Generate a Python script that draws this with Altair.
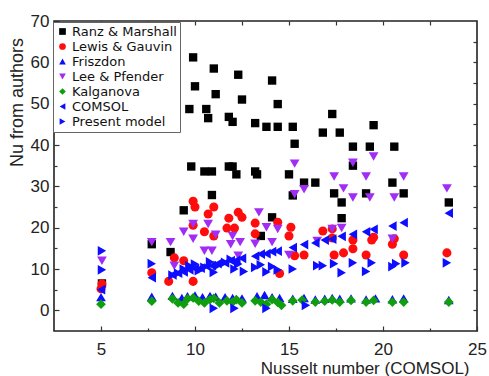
import altair as alt
import pandas as pd

# ---------------- data ----------------
series_names = ["Ranz & Marshall", "Lewis & Gauvin", "Friszdon", "Lee & Pfender",
                "Kalganova", "COMSOL", "Present model"]
series_colors = ["#000000", "#ff0d0d", "#0d0dff", "#a02cf5", "#0e9e0e", "#0d0dff", "#0d0dff"]
series_shapes = ["square", "circle", "triangle-up", "triangle-down", "diamond",
                 "triangle-left", "triangle-right"]

ranz_x = [5.05, 7.7, 8.7, 9.4, 9.7, 9.8, 9.9, 10.0, 10.5, 10.6, 10.7, 10.9, 10.9, 11.0, 11.1,
          11.8, 11.8, 12.0, 12.0, 12.2, 12.3, 12.5, 13.2, 13.2, 13.3, 13.5, 13.8, 14.1, 14.1,
          14.4, 14.4, 15.0, 15.2, 15.2, 15.3, 15.8, 16.4, 16.8, 17.3, 17.4, 17.7, 17.8, 17.8,
          18.4, 18.4, 19.1, 19.3, 19.5, 20.5, 20.6, 21.1, 23.5]
ranz_y = [6.5, 16.0, 14.1, 24.2, 48.7, 34.8, 61.2, 54.2, 33.6, 48.7, 46.5, 33.6, 27.9, 58.5, 52.3,
          46.8, 34.8, 45.6, 34.8, 32.9, 57.0, 51.0, 45.3, 33.6, 32.9, 18.0, 44.4, 55.6, 22.5,
          44.4, 49.9, 32.9, 44.4, 27.8, 40.3, 30.9, 30.9, 43.0, 47.5, 28.3, 43.0, 26.1, 22.3,
          39.6, 35.0, 28.3, 39.6, 44.8, 30.9, 39.6, 28.3, 26.1]

lewis_x = [5.0, 5.05, 7.7, 8.6, 8.9, 9.4, 9.9, 9.9, 9.9, 10.0, 10.5, 10.7, 11.0, 11.0, 11.7,
           11.8, 12.1, 12.3, 12.5, 13.2, 13.2, 14.4, 14.5, 15.0, 15.1, 15.3, 15.8, 16.8, 17.3,
           17.3, 17.4, 17.9, 18.4, 18.4, 19.1, 19.4, 19.5, 20.5, 20.6, 21.1, 23.4]
lewis_y = [5.2, 6.4, 9.1, 7.0, 12.7, 12.0, 26.4, 20.6, 7.0, 25.0, 19.0, 23.3, 25.0, 18.0, 19.9,
           22.3, 19.9, 23.7, 22.5, 21.1, 18.5, 21.3, 8.9, 18.0, 20.1, 13.2, 13.4, 19.2, 19.7,
           17.5, 13.4, 13.9, 17.0, 14.9, 13.4, 17.0, 17.7, 16.0, 17.3, 13.4, 13.9]

frisz_x = [5.0, 7.7, 8.8, 9.3, 9.6, 10.0, 10.4, 10.8, 11.1, 11.6, 12.0, 12.5, 13.3, 13.7, 14.1,
           14.5, 15.2, 15.8, 16.4, 16.9, 17.3, 17.7, 18.3, 19.1, 19.6, 20.5, 21.1, 23.5]
frisz_y = [3.2, 3.3, 3.5, 3.0, 3.4, 3.6, 3.2, 3.5, 3.3, 3.2, 3.0, 2.9, 3.4, 3.7, 3.2,
           3.0, 2.8, 3.0, 2.6, 2.8, 3.0, 2.8, 2.9, 2.6, 2.9, 2.7, 2.9, 2.5]

lee_x = [5.05, 7.7, 8.7, 8.9, 9.4, 9.9, 9.9, 10.5, 10.7, 10.9, 11.1, 11.9, 12.0, 12.3, 12.4,
         13.2, 13.4, 13.8, 14.1, 14.4, 15.0, 15.3, 15.3, 15.8, 16.5, 17.3, 17.4, 17.8, 17.9,
         18.4, 18.4, 19.1, 19.3, 19.5, 20.5, 20.6, 21.1, 23.4]
lee_y = [12.0, 16.5, 16.5, 10.8, 19.0, 20.9, 17.3, 14.4, 20.9, 14.4, 18.3, 16.0, 18.0, 13.2, 16.5,
         16.1, 23.7, 20.1, 16.5, 19.7, 13.4, 35.5, 28.1, 29.3, 16.8, 19.7, 32.4, 19.9, 29.5,
         35.7, 27.3, 32.4, 27.3, 37.2, 17.3, 27.3, 32.4, 29.5]

kalg_x = [5.0, 7.7, 8.8, 9.1, 9.4, 9.6, 9.9, 10.2, 10.5, 10.8, 11.0, 11.3, 11.7, 12.0, 12.2,
          12.5, 13.2, 13.5, 13.8, 14.1, 14.4, 14.6, 15.2, 15.7, 16.4, 16.9, 17.3, 17.7, 18.3,
          19.1, 19.5, 20.5, 21.1, 23.5]
kalg_y = [1.5, 2.2, 2.8, 1.8, 1.5, 2.8, 3.0, 2.2, 1.8, 2.6, 2.9, 1.8, 2.3, 2.0, 2.6,
          1.8, 2.3, 2.0, 1.5, 2.6, 1.9, 1.2, 2.3, 2.5, 2.0, 2.2, 2.5, 2.0, 2.4,
          2.0, 2.4, 2.0, 2.0, 2.0]

comsol_x = [5.0, 7.7, 8.8, 9.1, 9.4, 9.7, 10.0, 10.3, 10.6, 10.9, 11.2, 11.6, 11.9, 12.2, 12.5,
            13.2, 13.5, 13.8, 14.1, 14.4, 15.2, 15.8, 16.4, 16.9, 17.3, 17.8, 18.4, 19.1, 19.5,
            20.5, 21.1, 23.5]
comsol_y = [5.0, 7.9, 8.6, 9.0, 9.3, 9.8, 10.1, 10.2, 10.7, 10.8, 11.3, 11.5, 12.0, 12.1, 12.6,
            13.1, 13.6, 13.7, 14.2, 14.3, 15.2, 15.9, 16.3, 17.0, 17.2, 17.9, 18.4, 19.0, 19.6,
            20.4, 21.2, 23.5]

present_x = [5.05, 5.05, 7.7, 8.8, 9.1, 9.4, 9.7, 10.0, 10.2, 10.5, 10.8, 11.0, 11.2, 11.6, 11.9,
             12.1, 12.3, 12.6, 13.2, 13.5, 13.8, 14.1, 14.4, 15.2, 16.5, 16.8, 17.4, 17.8, 18.4,
             19.1, 19.4, 20.5, 20.7, 21.2, 23.4, 11.0, 12.1, 13.8, 15.9]
present_y = [14.4, 9.8, 11.3, 8.5, 9.0, 10.0, 10.8, 11.2, 9.6, 10.4, 11.7, 9.2, 10.8, 11.6, 12.3,
             10.0, 11.2, 9.4, 10.4, 11.0, 9.3, 10.6, 9.8, 10.0, 10.8, 10.8, 11.3, 9.1, 11.5,
             9.4, 11.5, 10.6, 11.3, 11.5, 11.5, 0.5, 0.5, 0.5, 1.2]

x_major = [5, 10, 15, 20, 25]
x_all = [5, 7.5, 10, 12.5, 15, 17.5, 20, 22.5]
x_minor = [7.5, 12.5, 17.5, 22.5]
y_major = [0, 10, 20, 30, 40, 50, 60, 70]
y_all = [0, 5, 10, 15, 20, 25, 30, 35, 40, 45, 50, 55, 60, 65]
y_minor = [5, 15, 25, 35, 45, 55, 65]

# ---------------- table ----------------
pairs = [(ranz_x, ranz_y), (lewis_x, lewis_y), (frisz_x, frisz_y), (lee_x, lee_y),
         (kalg_x, kalg_y), (comsol_x, comsol_y), (present_x, present_y)]
rows = []
for name, (xs, ys) in zip(series_names, pairs):
    for xv, yv in zip(xs, ys):
        rows.append({"series": name, "x": xv, "y": yv})
df = pd.DataFrame(rows)

FONT = "Liberation Sans"
xscale = alt.Scale(domain=[2.5, 25], nice=False, zero=False)
yscale = alt.Scale(domain=[-5, 70], nice=False, zero=False)

legend = alt.Legend(orient="none", legendX=-1, legendY=1, padding=3,
                    strokeColor="#666666", fillColor="white",
                    labelFont="DejaVu Sans", labelFontSize=13, labelColor="#111111",
                    symbolSize=45, symbolOpacity=1, symbolStrokeWidth=0,
                    labelOffset=3, rowPadding=1)

color_enc = alt.Color("series:N", title=None,
                      scale=alt.Scale(domain=series_names, range=series_colors), legend=legend)
shape_enc = alt.Shape("series:N", title=None,
                      scale=alt.Scale(domain=series_names, range=series_shapes), legend=legend)

x_main = alt.X("x:Q", scale=xscale,
               axis=alt.Axis(orient="bottom", values=x_major, offset=-5, tickSize=5,
                             labelPadding=10, domain=False, grid=False, labelFlush=False,
                             labelOverlap=False, labelFont=FONT, labelFontSize=17,
                             labelColor="#222222", tickColor="#333333", tickWidth=1.2,
                             title="Nusselt number (COMSOL)", titleFont=FONT, titleFontSize=17,
                             titleFontWeight="normal", titleColor="#222222",
                             titleX=415, titleY=47, titleAlign="right",
                             titleBaseline="alphabetic"))
y_main = alt.Y("y:Q", scale=yscale,
               axis=alt.Axis(orient="left", values=y_major, offset=-5, tickSize=5,
                             labelPadding=5, domain=False, grid=False, labelFlush=False,
                             labelOverlap=False, labelFont=FONT, labelFontSize=17,
                             labelColor="#222222", tickColor="#333333", tickWidth=1.2,
                             title="Nu from authors", titleFont=FONT, titleFontSize=18,
                             titleFontWeight="normal", titleColor="#222222",
                             titleAngle=270, titleX=-37, titleY=81, titleAlign="center",
                             titleBaseline="alphabetic"))

base = alt.Chart(df)
squares = base.transform_filter(alt.datum.series == series_names[0]).mark_point(
    filled=True, opacity=1, size=70).encode(x=x_main, y=y_main, color=color_enc, shape=shape_enc)
circles = base.transform_filter(alt.datum.series == series_names[1]).mark_point(
    filled=True, opacity=1, size=82).encode(
    x=alt.X("x:Q", scale=xscale, axis=None), y=alt.Y("y:Q", scale=yscale, axis=None),
    color=color_enc, shape=shape_enc)
others = base.transform_filter(
    alt.FieldOneOfPredicate(field="series", oneOf=series_names[2:])).mark_point(
    filled=True, opacity=1, size=95).encode(
    x=alt.X("x:Q", scale=xscale, axis=None), y=alt.Y("y:Q", scale=yscale, axis=None),
    color=color_enc, shape=shape_enc)

top_right = base.mark_point(opacity=0).encode(
    x=alt.X("x:Q", scale=xscale,
            axis=alt.Axis(orient="top", values=x_all, offset=-4, tickSize=4, labels=False,
                          domain=False, grid=False, tickColor="#333333", tickWidth=1.2,
                          title="")),
    y=alt.Y("y:Q", scale=yscale,
            axis=alt.Axis(orient="right", values=y_all, offset=-4, tickSize=4, labels=False,
                          domain=False, grid=False, tickColor="#333333", tickWidth=1.2,
                          title="")),
)

minor = base.mark_point(opacity=0).encode(
    x=alt.X("x:Q", scale=xscale,
            axis=alt.Axis(orient="bottom", values=x_minor, offset=-3, tickSize=3, labels=False,
                          domain=False, grid=False, tickColor="#333333", tickWidth=1.2,
                          title="")),
    y=alt.Y("y:Q", scale=yscale,
            axis=alt.Axis(orient="left", values=y_minor, offset=-3, tickSize=3, labels=False,
                          domain=False, grid=False, tickColor="#333333", tickWidth=1.2,
                          title="")),
)

chart = alt.layer(minor, top_right, squares, circles, others).resolve_axis(
    x="independent", y="independent"
).properties(
    width=423, height=310, autosize="none",
    padding={"left": 54, "top": 21, "right": 12, "bottom": 45},
    background="white",
).configure(font=FONT).configure_view(stroke="#222222", strokeWidth=1.6)

chart.save("out.html", embed_options={"renderer": "svg", "actions": False})
